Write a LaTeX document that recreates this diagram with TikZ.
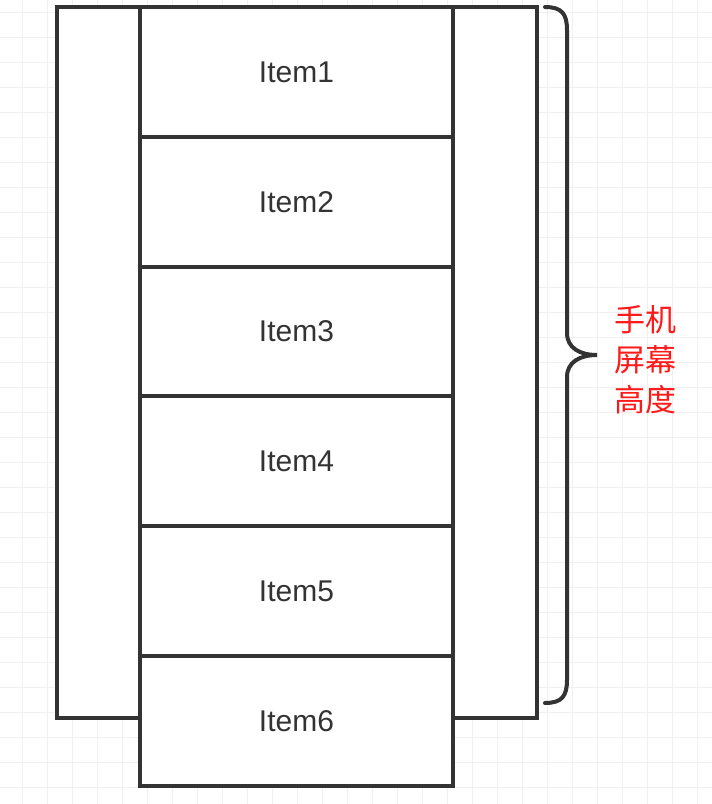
\documentclass[tikz,border=0pt]{standalone}
\usepackage{fontspec}
\setmainfont{Liberation Sans}
\newfontfamily\cjk{Noto Sans CJK SC}
\definecolor{ink}{HTML}{333333}
\definecolor{gridc}{HTML}{F0F0F0}
\definecolor{lab}{HTML}{FF1A1A}
\begin{document}
\begin{tikzpicture}[x=1pt,y=-1pt,
  box/.style={draw=ink,line width=4pt,fill=white,outer sep=0pt},
  itembox/.style={box,minimum width=313pt,minimum height=129.8pt,inner sep=0pt,anchor=north west,
     font=\fontsize{30}{32}\selectfont,text=ink},
  bracepath/.style={draw=ink,line width=4pt,line cap=round}]
\useasboundingbox (0,0) rectangle (712,804);
\fill[white] (0,0) rectangle (712,804);
\foreach \x in {22,47,...,712} \draw[gridc,line width=1pt] (\x,0) -- (\x,804);
\foreach \y in {12,37,...,804} \draw[gridc,line width=1pt] (0,\y) -- (712,\y);
\node[box,minimum width=480pt,minimum height=711pt,inner sep=0pt,anchor=north west] (outer) at (57,7) {};
\node[itembox] (i1) at (140,7) {Item1};
\node[itembox] (i2) at (140,136.8) {Item2};
\node[itembox] (i3) at (140,266.6) {Item3};
\node[itembox] (i4) at (140,396.4) {Item4};
\node[itembox] (i5) at (140,526.2) {Item5};
\node[itembox] (i6) at (140,656) {Item6};
\draw[bracepath] (545,7) .. controls (562,7) and (567,14) .. (567,30)
  -- (567,333) .. controls (567,348) and (580,355) .. (597,355)
  .. controls (580,355) and (567,362) .. (567,377)
  -- (567,680) .. controls (567,696) and (562,703) .. (545,703);
\node[text=lab,font=\cjk\fontsize{31}{40}\selectfont,align=center] (lbl) at (645,360) {手机\\屏幕\\高度};
\end{tikzpicture}
\end{document}
